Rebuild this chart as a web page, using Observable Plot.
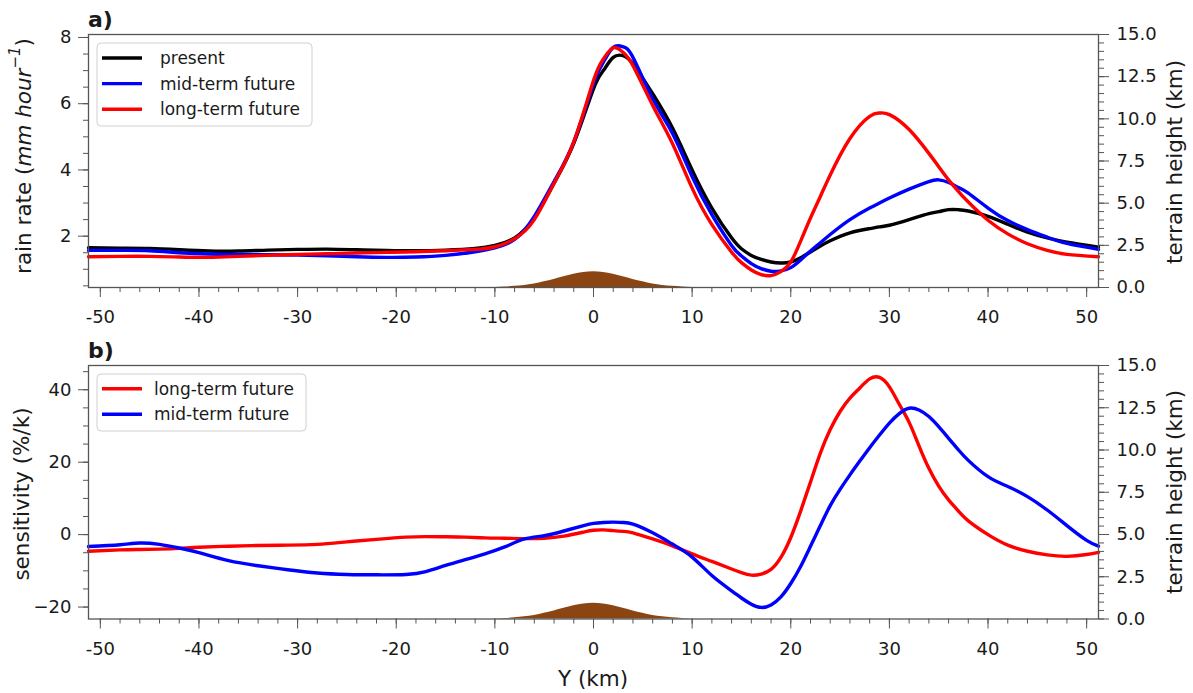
<!DOCTYPE html>
<html>
<head>
<meta charset="utf-8">
<script src="https://cdn.jsdelivr.net/npm/d3@7"></script>
<script src="https://cdn.jsdelivr.net/npm/@observablehq/plot@0.6"></script>
<style>
  body { margin: 0; background: #fff; font-family: "DejaVu Sans", sans-serif; }
  #wrap { position: relative; width: 1193px; height: 693px; overflow: hidden; background: #fff; }
  .layer { position: absolute; left: 0; }
  #overlay { position: absolute; left: 0; top: 0; pointer-events: none; }
</style>
</head>
<body>
<div id="wrap"></div>
<script>
// ---------- data ----------
const xTicks = [-50, -40, -30, -20, -10, 0, 10, 20, 30, 40, 50];
const xTickLabels = ["-50", "-40", "-30", "-20", "-10", "0", "10", "20", "30", "40", "50"];
const xMinor = [-50,-48,-46,-44,-42,-40,-38,-36,-34,-32,-30,-28,-26,-24,-22,-20,-18,-16,-14,-12,-10,-8,-6,-4,-2,0,2,4,6,8,10,12,14,16,18,20,22,24,26,28,30,32,34,36,38,40,42,44,46,48,50];

// panel a: rain rate (mm/hour)
const yA = [-51.2,-48,-45,-42,-39,-36,-33,-30,-27,-24,-21,-18,-15,-12,-10,-8,-6,-4,-2,0,1,2,3,4,6,8,10,12,14,15,16,17,18,19,20,21,22,23,24,26,28,29,30,32,34,35,36,37,38,40,42,44,46,48,51.2];
const presentRain = [1.65,1.64,1.63,1.59,1.55,1.55,1.58,1.60,1.61,1.59,1.57,1.56,1.58,1.63,1.72,1.95,2.55,3.6,4.8,6.45,7.0,7.4,7.45,7.2,6.3,5.27,4.0,2.85,1.95,1.62,1.42,1.3,1.22,1.19,1.22,1.35,1.52,1.7,1.86,2.1,2.23,2.28,2.33,2.5,2.68,2.74,2.8,2.8,2.76,2.6,2.36,2.12,1.95,1.82,1.67];
const midRain = [1.57,1.57,1.56,1.5,1.46,1.45,1.44,1.43,1.41,1.38,1.36,1.37,1.42,1.53,1.65,1.9,2.6,3.65,4.85,6.6,7.25,7.7,7.72,7.4,6.15,5.11,3.8,2.65,1.72,1.4,1.17,1.02,0.94,0.95,1.05,1.28,1.55,1.8,2.05,2.5,2.85,3.0,3.15,3.42,3.65,3.7,3.62,3.47,3.3,2.85,2.47,2.2,1.97,1.78,1.6];
const longRain = [1.38,1.39,1.39,1.37,1.36,1.39,1.42,1.45,1.47,1.49,1.51,1.53,1.56,1.6,1.68,1.92,2.5,3.6,4.85,6.7,7.35,7.69,7.55,7.15,5.95,4.8,3.45,2.35,1.52,1.2,0.98,0.84,0.81,0.93,1.22,1.85,2.55,3.2,3.85,4.95,5.62,5.72,5.67,5.22,4.5,4.1,3.7,3.35,3.03,2.48,2.07,1.77,1.57,1.45,1.38];
const rainTicks = [2, 4, 6, 8];
const rainMinor = [0.5,1,1.5,2,2.5,3,3.5,4,4.5,5,5.5,6,6.5,7,7.5,8];

// panel b: sensitivity (%/k)
const yB = [-51.2,-48,-46,-44,-42,-40,-37,-34,-31,-28,-25,-22,-19,-17,-15,-13,-11,-9,-7,-5,-3,-1,0,1,2,3,4,6,8,10,12,14,15,16,17,18,19,20,21,22,23,24,25,26,27,28,29,30,31,32,33,34,35,36,37,38,40,42,44,46,48,50,51.2];
const longSens = [-4.6,-4.2,-4.1,-4.0,-3.8,-3.5,-3.2,-3.0,-2.9,-2.7,-2.0,-1.3,-0.7,-0.55,-0.6,-0.7,-0.9,-1.0,-1.1,-1.0,-0.4,0.7,1.2,1.3,1.1,0.9,0.5,-1.2,-3.1,-5.3,-7.4,-9.5,-10.5,-11.2,-10.9,-9.6,-6.3,-0.8,6.5,14.5,22.5,29.0,34.0,37.7,40.5,43.0,43.4,40.8,36.0,31.0,24.5,18.3,13.4,9.6,6.5,3.8,0.0,-2.9,-4.6,-5.6,-6.0,-5.5,-4.9];
const midSens = [-3.3,-2.8,-2.3,-2.7,-3.7,-5.0,-7.2,-8.6,-9.7,-10.6,-11.0,-11.1,-11.0,-10.2,-8.5,-6.9,-5.3,-3.4,-1.2,-0.3,1.0,2.5,3.1,3.35,3.45,3.35,2.9,0.5,-2.6,-6.2,-11.3,-15.5,-17.5,-19.2,-20.1,-19.4,-17.2,-13.5,-8.8,-3.2,2.5,8.0,12.5,16.5,20.3,24.0,27.5,30.8,33.4,34.9,34.4,32.6,29.8,26.6,23.4,20.5,16.0,13.3,10.5,6.8,2.5,-1.6,-3.2];
const sensTicks = [-20, 0, 20, 40];
const sensMinor = [-20,-15,-10,-5,0,5,10,15,20,25,30,35,40,45];

// terrain (km)
const terrainX = [-10,-9,-8,-7,-6,-5,-4,-3,-2,-1,0,1,2,3,4,5,6,7,8,9,10];
const terrainH = [0,0.03,0.068,0.126,0.21,0.34,0.48,0.64,0.79,0.89,0.93,0.89,0.79,0.64,0.48,0.34,0.21,0.126,0.068,0.03,0];
const terrainTicks = [0, 2.5, 5, 7.5, 10, 12.5, 15];
const terrainMinor = [0,0.5,1,1.5,2,2.5,3,3.5,4,4.5,5,5.5,6,6.5,7,7.5,8,8.5,9,9.5,10,10.5,11,11.5,12,12.5,13,13.5,14,14.5,15];

// legends
const legendA = ["present", "mid-term future", "long-term future"];
const legendAColors = ["#000000", "#0000ff", "#ff0000"];
const legendB = ["long-term future", "mid-term future"];
const legendBColors = ["#ff0000", "#0000ff"];

// ---------- drawing ----------
const W = 1193, ML = 88, MR = 95;
const xLabelMap = new Map(xTicks.map((t, i) => [t, xTickLabels[i]]));
const wrap = document.getElementById("wrap");
const baseStyle = {background: "transparent", fontFamily: "DejaVu Sans", fontSize: "18px", color: "#1a1a1a", overflow: "visible"};
const AX = "#555";

function rows(xs, vs) { return xs.map((x, i) => ({x, v: vs[i]})); }

function addLayer(svg, top) {
  svg.classList.add("layer");
  svg.style.top = top + "px";
  wrap.appendChild(svg);
}

function terrainPlot(height, mt, mb) {
  return Plot.plot({
    width: W, height, marginTop: mt, marginBottom: mb, marginLeft: ML, marginRight: MR,
    style: baseStyle,
    x: {domain: [-51.2, 51.2], axis: null},
    y: {domain: [0, 15]},
    marks: [
      Plot.areaY(rows(terrainX, terrainH), {x: "x", y: "v", fill: "#8B4513", curve: "monotone-x"}),
      Plot.axisY({anchor: "right", ticks: terrainTicks, tickSize: 10, tickPadding: 8, tickFormat: d3.format(".1f"), stroke: AX, label: null}),
      Plot.axisY({anchor: "right", ticks: terrainMinor, tickSize: 5, tickFormat: () => "", stroke: AX, label: null})
    ]
  });
}

function linePlot(height, mt, mb, yDomain, series, yTicks, yMinor, yFmt) {
  return Plot.plot({
    width: W, height, marginTop: mt, marginBottom: mb, marginLeft: ML, marginRight: MR,
    style: baseStyle,
    x: {domain: [-51.2, 51.2]},
    y: {domain: yDomain},
    marks: [
      ...series.map(s => Plot.line(rows(s.x, s.v), {x: "x", y: "v", stroke: s.color, strokeWidth: 3.4, curve: "natural"})),
      Plot.frame({stroke: AX, strokeWidth: 1.3}),
      Plot.axisX({ticks: xTicks, tickSize: 10, tickPadding: 13, tickFormat: d => xLabelMap.get(d), stroke: AX, label: null}),
      Plot.axisX({ticks: xMinor, tickSize: 5, tickFormat: () => "", stroke: AX, label: null}),
      Plot.axisY({ticks: yTicks, tickSize: 10, tickPadding: 7, tickFormat: yFmt, stroke: AX, label: null}),
      Plot.axisY({ticks: yMinor, tickSize: 5, tickFormat: () => "", stroke: AX, label: null})
    ]
  });
}

// panel a: frame y 34..287
addLayer(terrainPlot(330, 34, 43), 0);
addLayer(linePlot(330, 34, 43, [0.45, 8.09], [
  {x: yA, v: presentRain, color: legendAColors[0]},
  {x: yA, v: midRain, color: legendAColors[1]},
  {x: yA, v: longRain, color: legendAColors[2]}
], rainTicks, rainMinor, d3.format("d")), 0);

// panel b: frame y 365..618.5
addLayer(terrainPlot(363, 35, 74.5), 330);
addLayer(linePlot(363, 35, 74.5, [-23.3, 46.7], [
  {x: yB, v: longSens, color: legendBColors[0]},
  {x: yB, v: midSens, color: legendBColors[1]}
], sensTicks, sensMinor, d3.format("d")), 330);

// ---------- overlay: panel letters, axis titles, legends ----------
const ov = d3.select(wrap).append("svg").attr("id", "overlay")
  .attr("width", W).attr("height", 693)
  .style("font-family", "DejaVu Sans").style("fill", "#1a1a1a");

ov.append("text").attr("x", 88).attr("y", 27).attr("font-size", 22).attr("font-weight", "bold").text("a)");
ov.append("text").attr("x", 88).attr("y", 358).attr("font-size", 22).attr("font-weight", "bold").text("b)");

function vlabel(x, y, build) {
  const t = ov.append("text").attr("transform", `translate(${x},${y}) rotate(-90)`)
    .attr("text-anchor", "middle").attr("dominant-baseline", "central").attr("font-size", 21.5);
  build(t);
}
vlabel(23, 156, t => {
  t.append("tspan").text("rain rate (");
  t.append("tspan").attr("font-style", "italic").text("mm hour");
  t.append("tspan").attr("font-style", "italic").attr("font-size", 15).attr("dy", -8).text("−1");
  t.append("tspan").attr("dy", 8).text(")");
});
vlabel(1174, 162, t => t.text("terrain height (km)"));
vlabel(21, 494, t => t.text("sensitivity (%/k)"));
vlabel(1174, 492, t => t.text("terrain height (km)"));
ov.append("text").attr("x", 593).attr("y", 678).attr("text-anchor", "middle")
  .attr("dominant-baseline", "central").attr("font-size", 21.5).text("Y (km)");

function legend(x0, y0, w, h, names, colors, rowY0, textX) {
  ov.append("rect").attr("x", x0).attr("y", y0).attr("width", w).attr("height", h)
    .attr("rx", 4).attr("fill", "white").attr("fill-opacity", 0.85).attr("stroke", "#d0d0d0");
  names.forEach((n, i) => {
    const y = rowY0 + i * 25.6;
    ov.append("line").attr("x1", 102).attr("x2", 142).attr("y1", y).attr("y2", y)
      .attr("stroke", colors[i]).attr("stroke-width", 3.4);
    ov.append("text").attr("x", textX).attr("y", y).attr("dominant-baseline", "central")
      .attr("font-size", 17).text(n);
  });
}
legend(97, 43, 215, 83, legendA, legendAColors, 58, 160);
legend(97, 374, 209, 57, legendB, legendBColors, 388.7, 154);
</script>
</body>
</html>
